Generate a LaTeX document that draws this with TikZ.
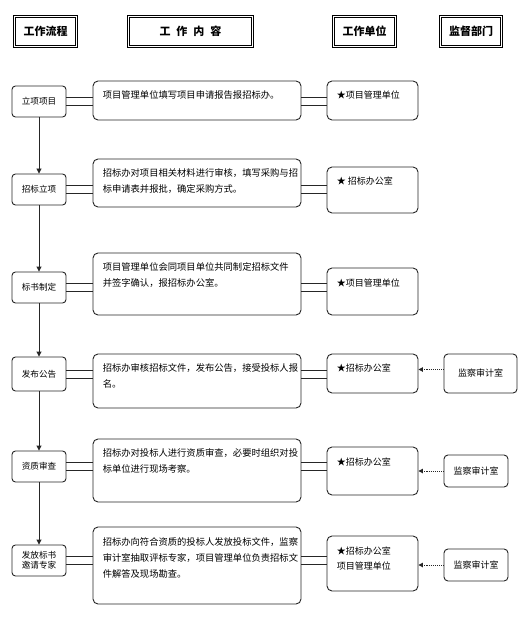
\documentclass[tikz,border=0pt]{standalone}
\usepackage{fontspec}
\setmainfont{Noto Sans CJK SC}
\usetikzlibrary{arrows.meta}
\tikzset{
  ln/.style={draw=black!85, line width=0.9pt},
  hbox/.style={draw=black, line width=0.7pt, double=white, double distance=1.4pt, inner sep=0pt, font={\fontsize{11}{13}\selectfont\bfseries}},
  lbox/.style={ln, rounded corners=3.5pt, inner sep=0pt, align=center, font={\fontsize{8.6}{9.6}\selectfont}},
  cbox/.style={ln, rounded corners=5pt, inner sep=0pt},
  mbox/.style={ln, rounded corners=4pt, inner sep=0pt, font={\fontsize{9}{10}\selectfont}},
  ctext/.style={anchor=north west, inner sep=0pt, align=left, font={\fontsize{9.3}{16}\selectfont}},
  utext/.style={anchor=north west, inner sep=0pt, align=left, font={\fontsize{9}{15}\selectfont}},
  flow/.style={ln, -{Triangle[length=5pt,width=5pt]}},
  sup/.style={draw=black!85, line width=0.9pt, densely dotted, -{Triangle[length=4.5pt,width=4.5pt]}},
  dl/.style={draw=black!85, line width=0.9pt}
}
\newcommand\bx[7]{\node[#6, minimum width={#4-#2}, minimum height={#5-#3}] (#1) at ({(#2+#4)/2},{(#3+#5)/2}) {#7};}
\newcommand\hb[6]{\node[hbox, minimum width={#4-#2-2.8}, minimum height={#5-#3-2.8}] (#1) at ({(#2+#4)/2},{(#3+#5)/2}) {#6};}
\newcommand\dbl[2]{%
  \draw[dl] ([yshift=4]#1.east) -- ([yshift=4]#1.east -| #2.west);
  \draw[dl] ([yshift=-4]#1.east) -- ([yshift=-4]#1.east -| #2.west);}
\newcommand\dblr[3]{%
  \draw[dl] ([yshift=4]#3.east -| #1.east) -- ([yshift=4]#3.east -| #2.west);
  \draw[dl] ([yshift=-4]#3.east -| #1.east) -- ([yshift=-4]#3.east -| #2.west);}
\begin{document}
\begin{tikzpicture}[x=1pt,y=-1pt]
\useasboundingbox[fill=white] (0,0) rectangle (528,617);
% headers
\hb{H1}{13}{15}{78}{48}{工作流程}
\hb{H2}{127}{15}{254}{48}{工\hspace{6pt}作\hspace{6pt}内\hspace{6pt}容}
\hb{H3}{332}{15}{397}{48}{工作单位}
\hb{H4}{439}{15}{503}{48}{监督部门}
% row 1
\bx{L1}{12}{86}{66}{117}{lbox}{立项项目}
\bx{C1}{93}{81}{301}{120}{cbox}{}
\bx{U1}{327}{81}{418}{120}{cbox}{}
\node[ctext] (T1) at ([shift={(10,10)}]C1.north west) {项目管理单位填写项目申请报告报招标办。};
\node[utext] (V1) at ([shift={(10,10)}]U1.north west) {★项目管理单位};
% row 2
\bx{L2}{12}{174}{66}{205}{lbox}{招标立项}
\bx{C2}{93}{159}{301}{207}{cbox}{}
\bx{U2}{327}{167}{418}{213}{cbox}{}
\node[ctext] (T2) at ([shift={(10,10)}]C2.north west) {招标办对项目相关材料进行审核，填写采购与招\\标申请表并报批，确定采购方式。};
\node[utext] (V2) at ([shift={(10,10)}]U2.north west) {★ 招标办公室};
% row 3
\bx{L3}{12}{272}{66}{303}{lbox}{标书制定}
\bx{C3}{93}{253}{301}{315}{cbox}{}
\bx{U3}{327}{268}{418}{315}{cbox}{}
\node[ctext] (T3) at ([shift={(10,10)}]C3.north west) {项目管理单位会同项目单位共同制定招标文件\\并签字确认，报招标办公室。};
\node[utext] (V3) at ([shift={(10,11)}]U3.north west) {★项目管理单位};
% row 4
\bx{L4}{12}{357}{66}{391}{lbox}{发布公告}
\bx{C4}{93}{354}{301}{408}{cbox}{}
\bx{U4}{327}{354}{418}{393}{cbox}{}
\bx{M4}{444}{354}{517}{393}{mbox}{监察审计室}
\node[ctext] (T4) at ([shift={(10,10)}]C4.north west) {招标办审核招标文件，发布公告，接受投标人报\\名。};
\node[utext] (V4) at ([shift={(10,10)}]U4.north west) {★招标办公室};
% row 5
\bx{L5}{12}{451}{66}{482}{lbox}{资质审查}
\bx{C5}{93}{439}{301}{502}{cbox}{}
\bx{U5}{327}{447}{418}{495}{cbox}{}
\bx{M5}{444}{455}{508}{487}{mbox}{监察审计室}
\node[ctext] (T5) at ([shift={(10,10)}]C5.north west) {招标办对投标人进行资质审查，必要时组织对投\\标单位进行现场考察。};
\node[utext] (V5) at ([shift={(10,11)}]U5.north west) {★招标办公室};
% row 6
\bx{L6}{12}{545}{66}{576}{lbox}{发放标书\\邀请专家}
\bx{C6}{93}{527}{301}{604}{cbox}{}
\bx{U6}{327}{536}{418}{591}{cbox}{}
\bx{M6}{444}{549}{508}{581}{mbox}{监察审计室}
\node[ctext] (T6) at ([shift={(10,11)}]C6.north west) {招标办向符合资质的投标人发放投标文件，监察\\审计室抽取评标专家，项目管理单位负责招标文\\件解答及现场勘查。};
\node[utext] (V6) at ([shift={(10,11)}]U6.north west) {★招标办公室\\项目管理单位};
% double connectors
\dbl{L1}{C1}\dblr{C1}{U1}{L1}
\dbl{L2}{C2}\dblr{C2}{U2}{L2}
\dbl{L3}{C3}\dblr{C3}{U3}{L3}
\dbl{L4}{C4}\dblr{C4}{U4}{L4}
\dbl{L5}{C5}\dblr{C5}{U5}{L5}
\dbl{L6}{C6}\dblr{C6}{U6}{L6}
% flow arrows
\draw[flow] (L1.south) -- (L2.north);
\draw[flow] (L2.south) -- (L3.north);
\draw[flow] (L3.south) -- (L4.north);
\draw[flow] (L4.south) -- (L5.north);
\draw[flow] (L5.south) -- (L6.north);
% supervision arrows
\draw[sup] ([yshift=4]M4.west) -- ([yshift=4]M4.west -| U4.east);
\draw[sup] (M5.west) -- (M5.west -| U5.east);
\draw[sup] (M6.west) -- (M6.west -| U6.east);
\end{tikzpicture}
\end{document}
